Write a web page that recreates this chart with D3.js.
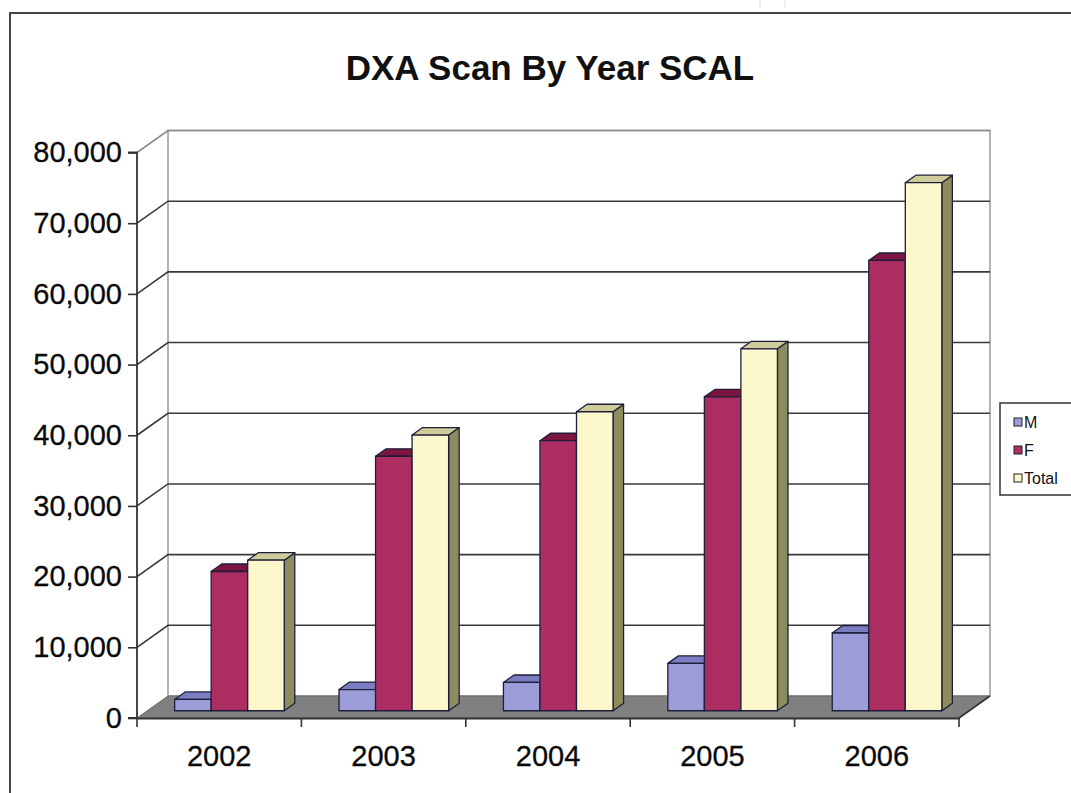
<!DOCTYPE html>
<html>
<head>
<meta charset="utf-8">
<script src="https://cdn.jsdelivr.net/npm/d3@7"></script>
<style>
  html, body { margin: 0; padding: 0; background: #fff; }
  svg { display: block; font-family: "Liberation Sans", Arial, sans-serif; }
</style>
</head>
<body>
<svg id="chart" width="1071" height="793"></svg>
<script>
// ---- data ----
const categories = ["2002", "2003", "2004", "2005", "2006"];
const seriesNames = ["M", "F", "Total"];
const mValues = [1600, 3000, 4000, 6700, 11000];
const fValues = [19700, 36000, 38200, 44400, 63700];
const totalValues = [21300, 39000, 42300, 51200, 74700];
const yTickValues = [0, 10000, 20000, 30000, 40000, 50000, 60000, 70000, 80000];
const titleText = "DXA Scan By Year SCAL";

// ---- styling / layout ----
const seriesColors = {
  M:     { front: "#9c9cd9", top: "#7c7cc2", side: "#6a6aa8" },
  F:     { front: "#ac2d62", top: "#7d1540", side: "#6d1238" },
  Total: { front: "#fcf8cc", top: "#cfcc9c", side: "#8c8c5e" }
};
const DX = 31, DY = 22;          // depth of the 3D box
const d0 = 0.33, d1 = 0.67;      // depth span of bars
const svg = d3.select("#chart");

const x = d3.scaleBand().domain(categories).range([137, 959]).paddingInner(0).paddingOuter(0);
const xi = d3.scaleBand().domain(seriesNames).range([0, x.bandwidth()]).paddingOuter(0.75).paddingInner(0);
const y = d3.scaleLinear().domain([0, 80000]).range([718, 152.5]);
const fmt = d3.format(",");

// outer border
svg.append("rect").attr("x", 0).attr("y", 0).attr("width", 1071).attr("height", 793).attr("fill", "#fff");
svg.append("path").attr("d", "M10,793 L10,13 L1071,13").attr("fill", "none").attr("stroke", "#444").attr("stroke-width", 2);
svg.append("line").attr("x1", 760).attr("x2", 760).attr("y1", 0).attr("y2", 8).attr("stroke", "#ddd");
svg.append("line").attr("x1", 785).attr("x2", 785).attr("y1", 0).attr("y2", 8).attr("stroke", "#ddd");

// title
svg.append("text").attr("x", 550).attr("y", 80).attr("text-anchor", "middle")
  .attr("font-weight", "bold").attr("font-size", 35).attr("fill", "#111").text(titleText);

const x0 = x.range()[0], x1 = x.range()[1];
const yb0 = y(0), ybTop = y(80000);

// back wall
svg.append("rect").attr("x", x0 + DX).attr("y", ybTop - DY).attr("width", x1 - x0)
  .attr("height", yb0 - ybTop).attr("fill", "#fff").attr("stroke", "#9a9a9a").attr("stroke-width", 1.5);

// gridlines (back wall + side wall)
const grid = svg.append("g");
yTickValues.forEach(v => {
  if (v === 0) return;
  grid.append("path")
    .attr("d", `M${x0},${y(v)} L${x0 + DX},${y(v) - DY} L${x1 + DX},${y(v) - DY}`)
    .attr("fill", "none").attr("stroke", v === 80000 ? "#8a8a8a" : "#3a3a3a").attr("stroke-width", 1.6);
});

// floor
svg.append("path")
  .attr("d", `M${x0},${yb0} L${x1},${yb0} L${x1 + DX},${yb0 - DY} L${x0 + DX},${yb0 - DY} Z`)
  .attr("fill", "#808080").attr("stroke", "#6a6a6a").attr("stroke-width", 1);

// bars
const seriesData = { M: mValues, F: fValues, Total: totalValues };
const bars = svg.append("g");
const ddx = (d1 - d0) * DX, ddy = (d1 - d0) * DY;
categories.forEach((cat, ci) => {
  seriesNames.forEach(s => {
    const v = seriesData[s][ci];
    const bx0 = x(cat) + xi(s) + d0 * DX;
    const bx1 = bx0 + xi.bandwidth();
    const yt = y(v) - d0 * DY;
    const yBot = y(0) - d0 * DY;
    const c = seriesColors[s];
    const g = bars.append("g").attr("stroke", "#1e1e3a").attr("stroke-width", 1.3).attr("stroke-linejoin", "round");
    g.append("path").attr("fill", c.side)
      .attr("d", `M${bx1},${yt} L${bx1 + ddx},${yt - ddy} L${bx1 + ddx},${yBot - ddy} L${bx1},${yBot} Z`);
    g.append("path").attr("fill", c.top)
      .attr("d", `M${bx0},${yt} L${bx1},${yt} L${bx1 + ddx},${yt - ddy} L${bx0 + ddx},${yt - ddy} Z`);
    g.append("rect").attr("fill", c.front).attr("x", bx0).attr("y", yt)
      .attr("width", bx1 - bx0).attr("height", yBot - yt);
  });
});

// y axis
const yAxis = d3.axisLeft(y).tickValues(yTickValues).tickFormat(fmt).tickSize(9).tickPadding(6);
const ya = svg.append("g").attr("transform", `translate(${x0},0)`).call(yAxis);
ya.select(".domain").attr("stroke", "#333").attr("stroke-width", 1.8).attr("d", `M-9,${y(80000)}H0V${y(0)}H-9`);
ya.selectAll(".tick line").attr("stroke", "#333").attr("stroke-width", 1.6);
ya.selectAll(".tick text").attr("font-size", 29).attr("fill", "#0a0a0a")
  .attr("stroke", "#0a0a0a").attr("stroke-width", 0.3)
  .attr("font-family", "'Liberation Sans', Arial, sans-serif");

// x axis
const xAxis = d3.axisBottom(x).tickSize(0).tickPadding(27);
const xa = svg.append("g").attr("transform", `translate(0,${y(0)})`).call(xAxis);
xa.select(".domain").attr("stroke", "#333").attr("stroke-width", 1.8);
xa.selectAll(".tick text").attr("font-size", 29).attr("fill", "#0a0a0a")
  .attr("stroke", "#0a0a0a").attr("stroke-width", 0.3)
  .attr("font-family", "'Liberation Sans', Arial, sans-serif");
const boundaries = categories.map(c => x(c)).concat([x1]);
xa.selectAll(".bnd").data(boundaries).enter().append("line")
  .attr("x1", d => d).attr("x2", d => d).attr("y1", 0).attr("y2", 9)
  .attr("stroke", "#333").attr("stroke-width", 1.6);
// floor right edge
svg.append("line").attr("x1", x1).attr("y1", yb0).attr("x2", x1 + DX).attr("y2", yb0 - DY)
  .attr("stroke", "#333").attr("stroke-width", 1.6);

// legend
const lg = svg.append("g");
lg.append("rect").attr("x", 1000).attr("y", 403).attr("width", 90).attr("height", 92)
  .attr("fill", "#fff").attr("stroke", "#333").attr("stroke-width", 1.5);
seriesNames.forEach((s, i) => {
  const cy = 422 + i * 28;
  lg.append("rect").attr("x", 1014).attr("y", cy - 4).attr("width", 8).attr("height", 8)
    .attr("fill", seriesColors[s].front).attr("stroke", "#222").attr("stroke-width", 1);
  lg.append("text").attr("x", 1024).attr("y", cy + 6).attr("font-size", 16).attr("fill", "#111").text(s);
});
</script>
</body>
</html>
